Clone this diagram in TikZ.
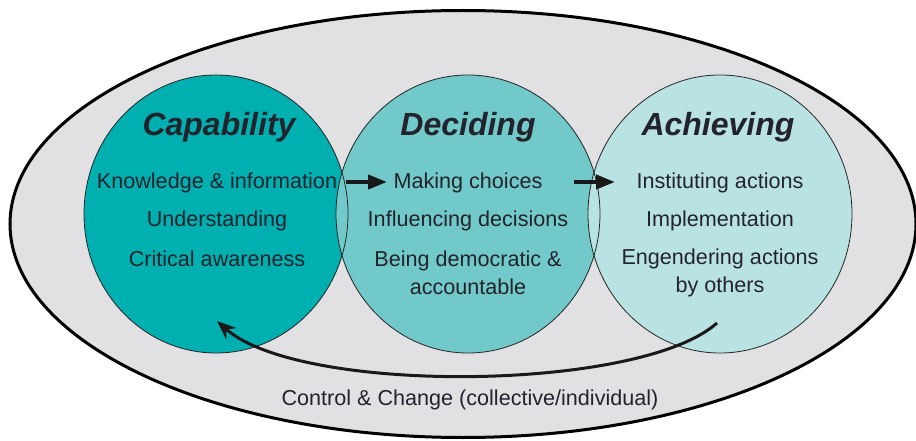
\documentclass[tikz,border=0pt]{standalone}
\usepackage{fontspec}
\setmainfont{Liberation Sans}
\usetikzlibrary{shapes.geometric,arrows.meta}
\definecolor{capc}{HTML}{00B0B0}
\definecolor{decc}{HTML}{72C9C9}
\definecolor{achc}{HTML}{B8E3E2}
\definecolor{bgc}{HTML}{E1E1E4}
\definecolor{txt}{HTML}{23232D}
\begin{document}
\begin{tikzpicture}[x=1pt,y=-1pt,
  ringfill/.style={ellipse, minimum width=264pt, minimum height=278pt, inner sep=0pt},
  ringline/.style={ellipse, draw=black!85, line width=0.8pt, minimum width=264pt, minimum height=278pt, inner sep=0pt},
  title/.style={font=\fontsize{32}{36}\selectfont\bfseries\itshape, text=txt, inner sep=0pt},
  item/.style={font=\fontsize{21.6}{28}\selectfont, text=txt, align=center, inner sep=0pt},
  flow/.style={line width=4pt, black!90, -{Triangle[length=19pt,width=14pt]}},
  loop/.style={line width=3pt, black!90, -{Stealth[length=19pt,width=15pt]}}]
\useasboundingbox (0,0) rectangle (916,441);
\node[ellipse, draw=black, line width=3pt, fill=bgc, minimum width=906pt, minimum height=427pt, inner sep=0pt] (outer) at (463,224) {};
% circle fills
\node[ringfill, fill=capc] (cap) at (216,214) {};
\node[ringfill, fill=decc] (dec) at (468,214) {};
\node[ringfill, fill=achc] (ach) at (720,214) {};
% circle outlines
\node[ringline] (capb) at (216,214) {};
\node[ringline] (decb) at (468,214) {};
\node[ringline] (achb) at (720,214) {};
% titles
\node[title] (t1) at (219,127) {Capability};
\node[title] (t2) at (468,127) {Deciding};
\node[title] (t3) at (718,127) {Achieving};
% items
\node[item] (c1) at (217,183) {Knowledge \& information};
\node[item] (c2) at (217,221) {Understanding};
\node[item] (c3) at (217,259) {Critical awareness};
\node[item] (d1) at (468,183) {Making choices};
\node[item] (d2) at (468,221) {Influencing decisions};
\node[item] (d3) at (468,273) {Being democratic \&\\accountable};
\node[item] (a1) at (720,183) {Instituting actions};
\node[item] (a2) at (720,221) {Implementation};
\node[item] (a3) at (720,273) {Engendering actions\\by others};
\node[item] (cc) at (470,400) {Control \& Change (collective/individual)};
% arrows
\coordinate (f1s) at (346,182);
\coordinate (f1e) at (387,182);
\coordinate (f2s) at (574,182);
\coordinate (f2e) at (615,182);
\draw[flow] (f1s) -- (f1e);
\draw[flow] (f2s) -- (f2e);
\coordinate (ls) at (717,323);
\coordinate (le) at (217,321);
\draw[loop] (ls) .. controls (640,392) and (300,395) .. (le);
\end{tikzpicture}
\end{document}
